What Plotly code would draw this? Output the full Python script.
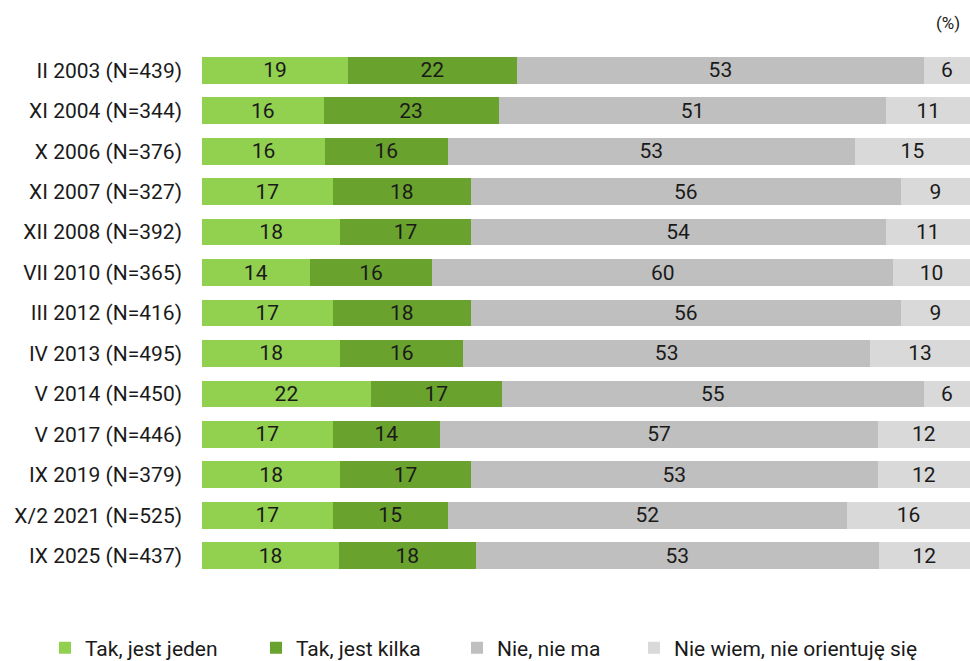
import plotly.graph_objects as go

categories = ["II 2003 (N=439)", "XI 2004 (N=344)", "X 2006 (N=376)", "XI 2007 (N=327)",
              "XII 2008 (N=392)", "VII 2010 (N=365)", "III 2012 (N=416)", "IV 2013 (N=495)",
              "V 2014 (N=450)", "V 2017 (N=446)", "IX 2019 (N=379)", "X/2 2021 (N=525)",
              "IX 2025 (N=437)"]
tak_jeden = [19, 16, 16, 17, 18, 14, 17, 18, 22, 17, 18, 17, 18]
tak_kilka = [22, 23, 16, 18, 17, 16, 18, 16, 17, 14, 17, 15, 18]
nie_ma = [53, 51, 53, 56, 54, 60, 56, 53, 55, 57, 53, 52, 53]
nie_wiem = [6, 11, 15, 9, 11, 10, 9, 13, 6, 12, 12, 16, 12]

series = [
    ("Tak, jest jeden", tak_jeden, "#92D050"),
    ("Tak, jest kilka", tak_kilka, "#6AA22E"),
    ("Nie, nie ma", nie_ma, "#BFBFBF"),
    ("Nie wiem, nie orientuję się", nie_wiem, "#D9D9D9"),
]
legend_x = [45, 256, 457, 634]
legend_ids = ["legend", "legend2", "legend3", "legend4"]

fig = go.Figure()
for i, (name, vals, color) in enumerate(series):
    fig.add_trace(go.Bar(
        y=categories, x=vals, name=name, orientation="h", legend=legend_ids[i],
        marker=dict(color=color, line=dict(width=0)),
        text=[str(v) for v in vals], textposition="inside", insidetextanchor="middle",
        textangle=0, constraintext="none",
        textfont=dict(family="Roboto", size=21, color="#1a1a1a"),
        hoverinfo="skip",
    ))

legends = {}
for lid, lx in zip(legend_ids, legend_x):
    legends[lid] = dict(orientation="h", xref="container", yref="container",
                        x=lx / 970, xanchor="left", y=1 - 648 / 661, yanchor="middle",
                        font=dict(family="Roboto", size=21, color="#1a1a1a"), itemwidth=30,
                        bgcolor="rgba(0,0,0,0)")

fig.update_layout(
    width=970, height=661,
    barmode="stack", barnorm="percent", bargap=0.34,
    margin=dict(l=202, r=0, t=49.75, b=84.75),
    paper_bgcolor="white", plot_bgcolor="white",
    font=dict(family="Roboto", size=21, color="#1a1a1a"),
    xaxis=dict(visible=False, range=[0, 100], fixedrange=True),
    yaxis=dict(autorange="reversed", showgrid=False, showline=False, zeroline=False,
               ticks="", ticklabelstandoff=19, tickfont=dict(size=21, color="#1a1a1a")),
    showlegend=True,
    annotations=[dict(text="(%)", xref="paper", yref="paper", x=1, y=(576.25 - 23) / 526.5,
                      xanchor="right", yanchor="middle", xshift=-8,
                      showarrow=False, font=dict(size=17, color="#1a1a1a"))],
    **legends,
)

fig.write_html("out.html", config={"displayModeBar": False},
               post_script="document.body.style.margin='0';")
